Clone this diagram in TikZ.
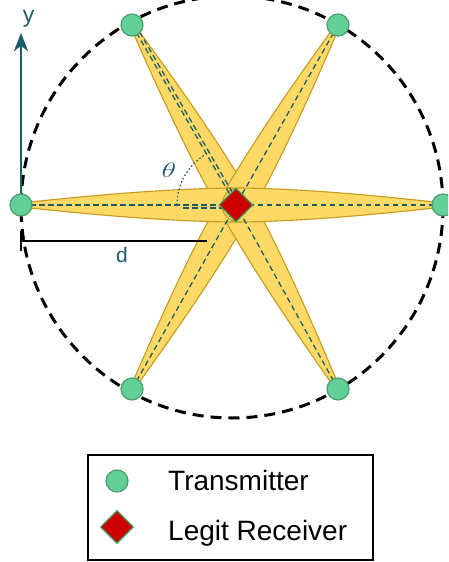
\documentclass[tikz,border=0pt]{standalone}
\usepackage{fontspec}
\setmainfont{Liberation Sans}
\usetikzlibrary{arrows.meta,shapes.geometric}
\definecolor{beamfill}{HTML}{FFD966}
\definecolor{beamedge}{HTML}{C59A1E}
\definecolor{teal}{HTML}{1E5A6A}
\definecolor{txfill}{HTML}{63D098}
\definecolor{txedge}{HTML}{4A9E6E}
\definecolor{rxfill}{HTML}{CC0000}
\definecolor{rxedge}{HTML}{3D9960}
\newcommand\beamshape[1]{%
  \path[beam] (0,2) .. controls ({0.3*#1},9) and ({0.65*#1},16) .. ({#1-6},17)
    .. controls ({#1+6},18) and ({#1+14},10) .. ({#1+14},0)
    .. controls ({#1+14},-10) and ({#1+6},-18) .. ({#1-6},-17)
    .. controls ({0.65*#1},-16) and ({0.3*#1},-9) .. (0,-2) -- cycle;}
\tikzset{
  beam/.style={fill=beamfill, draw=beamedge, line width=1.1pt},
  ray/.style={draw=teal, line width=1.3pt, dash pattern=on 5.5pt off 3.5pt},
  tx/.style={circle, minimum size=22pt, inner sep=0pt, fill=txfill, draw=txedge, line width=1.2pt},
  rx/.style={diamond, aspect=1, minimum width=34pt, minimum height=34pt, inner sep=0pt, fill=rxfill, draw=rxedge, line width=1.3pt},
  ring/.style={draw=black, line width=3pt, dash pattern=on 11pt off 7pt},
  lbl/.style={text=teal, inner sep=0pt},
  legtext/.style={font=\fontsize{28}{30}\selectfont, anchor=base west, inner sep=0pt},
}
\begin{document}
\begin{tikzpicture}[x=1pt,y=-1pt]
\useasboundingbox (0,0) rectangle (448,562);
\clip (0,0) rectangle (448,562);
% positions
\coordinate (C) at (232,207);
\coordinate (R) at (236,205);
\coordinate (p1) at (21,205);
\coordinate (p2) at (443,205);
\coordinate (p3) at (132,25);
\coordinate (p4) at (338,25);
\coordinate (p5) at (132,389);
\coordinate (p6) at (338,389);
% beams
\begin{scope}[shift={(p3)}, rotate=-60]\beamshape{208}\end{scope}
\begin{scope}[shift={(p4)}, rotate=-119.5]\beamshape{207}\end{scope}
\begin{scope}[shift={(p5)}, rotate=60.5]\beamshape{211}\end{scope}
\begin{scope}[shift={(p6)}, rotate=119]\beamshape{210}\end{scope}
\begin{scope}[shift={(p1)}, rotate=0]\beamshape{215}\end{scope}
\begin{scope}[shift={(p2)}, rotate=180]\beamshape{207}\end{scope}
% rays
\foreach \p in {p1,p2,p3,p4,p5,p6} \draw[ray] (\p) -- (R);
\coordinate (r3a) at (135,24);
\coordinate (r3b) at (239,204);
\draw[ray] (r3a) -- (r3b);
\coordinate (hA) at (183,208);
\coordinate (hB) at (222,208);
\draw[ray] (hA) -- (hB);
% theta arc
\draw[teal, line width=1.2pt, dash pattern=on 1.6pt off 2.2pt]
  plot[domain=180:121, samples=40, smooth] ({236+59*cos(\x)},{205-59*sin(\x)});
\node[lbl, anchor=base] (theta) at (169,177) {\fontsize{22}{22}\selectfont\scalebox{1.45}[1]{$\theta$}};
% dashed circle
\draw[ring] (C) circle (211);
% y axis
\coordinate (ytip) at (21,33);
\draw[teal, line width=2.6pt, -{Stealth[length=18pt,width=14pt,inset=5pt]}] (p1) -- (ytip);
\node[lbl, anchor=base, font=\fontsize{23}{23}\selectfont] (ylab) at (28.5,22) {y};
% d measure
\coordinate (dL) at (21,241);
\coordinate (dR) at (207,241);
\coordinate (dT) at (21,231);
\coordinate (dB) at (21,251);
\draw[black, line width=1.5pt] (dL) -- (dR);
\draw[black, line width=1.5pt] (dT) -- (dB);
\node[lbl, anchor=base, font=\fontsize{21}{21}\selectfont] (dlab) at (122,262) {d};
% transmitters and receiver
\foreach \p/\n in {p1/t1,p2/t2,p3/t3,p4/t4,p5/t5,p6/t6} \node[tx] (\n) at (\p) {};
\node[rx] (rx) at (R) {};
% legend
\node[draw=black, line width=1.5pt, minimum width=285pt, minimum height=105pt, inner sep=0pt] (legend) at (230.5,507.5) {};
\node[tx] (legtx) at (117,481) {};
\node[rx, minimum width=33pt, minimum height=33pt] (legrx) at (117,527) {};
\node[legtext] (legtxt1) at (168,490) {Transmitter};
\node[legtext] (legtxt2) at (168,540) {Legit Receiver};
\end{tikzpicture}
\end{document}
